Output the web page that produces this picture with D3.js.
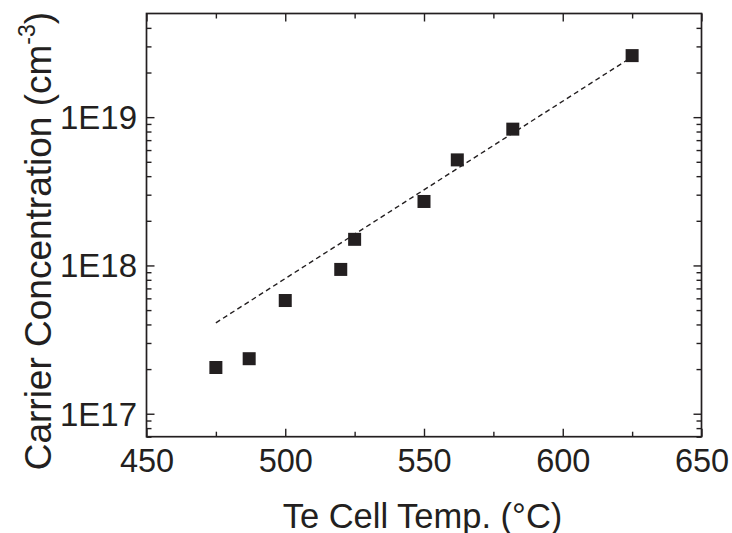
<!DOCTYPE html>
<html>
<head>
<meta charset="utf-8">
<script src="https://cdn.jsdelivr.net/npm/d3@7"></script>
<style>
  html, body { margin: 0; padding: 0; background: #fff; }
  svg { display: block; }
  text { font-family: "Liberation Sans", Arial, Helvetica, sans-serif; fill: #231f20; }
</style>
</head>
<body>
<svg id="chart" width="732" height="533"></svg>
<script>
// ---- data ----
const tempC = [475, 487, 500, 520, 525, 550, 562, 582, 625];
const carrier = [2.05e17, 2.35e17, 5.8e17, 9.4e17, 1.5e18, 2.7e18, 5.15e18, 8.3e18, 2.6e19];
const fitTemp = [475, 625];
const fitCarrier = [4.1e17, 2.55e19];
const xTicks = [450, 500, 550, 600, 650];
const xMinorTicks = [475, 525, 575, 625];
const yTicks = [1e17, 1e18, 1e19];
const yTickLabels = ["1E17", "1E18", "1E19"];
const xTitle = "Te Cell Temp. (°C)";
const yTitle = "Carrier Concentration (cm";
const yTitleSup = "-3";

// ---- layout ----
const W = 732, H = 533;
const L = 146.5, R = 701.5, T = 13.5, B = 436.7;
const ink = "#231f20";

const svg = d3.select("#chart");
const x = d3.scaleLinear().domain([450, 650]).range([L, R]);
const y = d3.scaleLog().domain([7e16, 5e19]).range([B, T]);

const yMinor = [];
for (let e = 16; e <= 19; e++) {
  for (let m = 2; m <= 9; m++) {
    const v = m * Math.pow(10, e);
    if (v >= 7e16 && v < 5e19) yMinor.push(v);
  }
}

function styleAxis(g) {
  g.select(".domain").remove();
  g.selectAll(".tick line").attr("stroke", ink).attr("stroke-width", 1.4);
}

// bottom major
svg.append("g").attr("transform", `translate(0,${B})`)
  .call(d3.axisBottom(x).tickValues(xTicks).tickSize(-8).tickPadding(13).tickFormat(d3.format("d")))
  .call(styleAxis)
  .call(g => g.selectAll(".tick text").attr("font-size", 32.5).attr("fill", ink)
    .attr("dy", null).attr("y", 35));
// bottom minor
svg.append("g").attr("transform", `translate(0,${B})`)
  .call(d3.axisBottom(x).tickValues(xMinorTicks).tickSize(-5).tickFormat(""))
  .call(styleAxis);
// top major/minor
svg.append("g").attr("transform", `translate(0,${T})`)
  .call(d3.axisTop(x).tickValues(xTicks).tickSize(-8).tickFormat(""))
  .call(styleAxis);
svg.append("g").attr("transform", `translate(0,${T})`)
  .call(d3.axisTop(x).tickValues(xMinorTicks).tickSize(-5).tickFormat(""))
  .call(styleAxis);

// left major
svg.append("g").attr("transform", `translate(${L},0)`)
  .call(d3.axisLeft(y).tickValues(yTicks).tickSize(-8).tickPadding(10)
    .tickFormat((d, i) => yTickLabels[i]))
  .call(styleAxis)
  .call(g => g.selectAll(".tick text").attr("font-size", 33).attr("fill", ink)
    .attr("x", -9.5).attr("dy", null).attr("y", 11.5));
svg.append("g").attr("transform", `translate(${L},0)`)
  .call(d3.axisLeft(y).tickValues(yMinor).tickSize(-5).tickFormat(""))
  .call(styleAxis);
// right
svg.append("g").attr("transform", `translate(${R},0)`)
  .call(d3.axisRight(y).tickValues(yTicks).tickSize(-8).tickFormat(""))
  .call(styleAxis);
svg.append("g").attr("transform", `translate(${R},0)`)
  .call(d3.axisRight(y).tickValues(yMinor).tickSize(-5).tickFormat(""))
  .call(styleAxis);

// frame
svg.append("rect").attr("x", L).attr("y", T).attr("width", R - L).attr("height", B - T)
  .attr("fill", "none").attr("stroke", ink).attr("stroke-width", 1.7);

// fit line
const line = d3.line().x((d, i) => x(fitTemp[i])).y((d, i) => y(fitCarrier[i]));
svg.append("path").datum(fitTemp).attr("d", line)
  .attr("fill", "none").attr("stroke", ink).attr("stroke-width", 1.4)
  .attr("stroke-dasharray", "5,3.5");

// points
const s = 13;
svg.append("g").selectAll("rect").data(tempC).join("rect")
  .attr("x", (d) => x(d) - s / 2)
  .attr("y", (d, i) => y(carrier[i]) - s / 2)
  .attr("width", s).attr("height", s).attr("fill", ink);

// titles
svg.append("text").attr("x", (L + R) / 2 - 1.5).attr("y", 527.5)
  .attr("text-anchor", "middle").attr("font-size", 34.5).text(xTitle);

const yt = svg.append("text").attr("transform", `translate(51,${(T + B) / 2 + 16}) rotate(-90)`)
  .attr("text-anchor", "middle").attr("font-size", 37);
yt.append("tspan").text(yTitle);
yt.append("tspan").attr("font-size", 23).attr("dy", -16).text(yTitleSup);
yt.append("tspan").attr("dy", 16).text(")");
</script>
</body>
</html>
